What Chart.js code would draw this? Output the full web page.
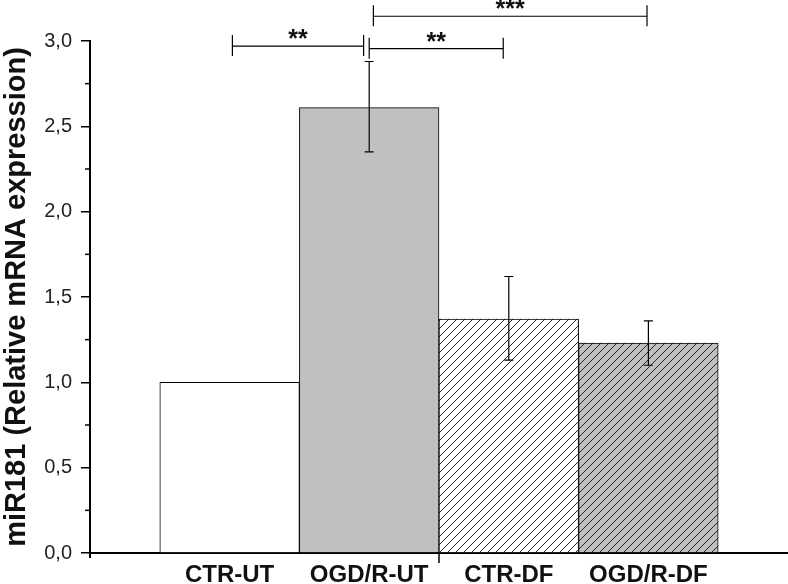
<!DOCTYPE html>
<html>
<head>
<meta charset="utf-8">
<script src="https://cdn.jsdelivr.net/npm/chart.js@4.4.1/dist/chart.umd.min.js"></script>
<style>
  html, body { margin: 0; padding: 0; background: #fff; }
  #wrap { width: 788px; height: 584px; }
</style>
</head>
<body>
<div id="wrap"><canvas id="chart" width="788" height="584"></canvas></div>
<script>
// data
var categories = ['CTR-UT', 'OGD/R-UT', 'CTR-DF', 'OGD/R-DF'];
var positions = [1, 2, 3, 4];
var means = [1.0, 2.61, 1.37, 1.23];
var errLow = [null, 2.35, 1.13, 1.10];
var errHigh = [null, 2.88, 1.62, 1.36];

// significance brackets
var sigStart = [1.02, 2.0, 2.03];
var sigEnd = [1.96, 2.96, 3.99];
var sigLevel = [2.97, 2.955, 3.145];
var sigText = ['**', '**', '***'];

function hatch(bg) {
    var c = document.createElement('canvas');
    c.width = 8; c.height = 8;
    var g = c.getContext('2d');
    g.fillStyle = bg;
    g.fillRect(0, 0, 8, 8);
    g.strokeStyle = '#222';
    g.lineWidth = 1;
    g.beginPath();
    g.moveTo(-1, 9); g.lineTo(9, -1);
    g.moveTo(-1, 1); g.lineTo(1, -1);
    g.moveTo(7, 9); g.lineTo(9, 7);
    g.stroke();
    return g.createPattern(c, 'repeat');
}

var ctx = document.getElementById('chart').getContext('2d');
var fills = ['#ffffff', '#c0c0c0', hatch('#ffffff'), hatch('#c0c0c0')];

// error bars, minor ticks, middle x tick, brackets
var extras = {
    id: 'extras',
    afterDatasetsDraw: function(chart) {
        var c = chart.ctx, xs = chart.scales.x, ys = chart.scales.y;
        var area = chart.chartArea;
        c.save();
        c.strokeStyle = '#000';
        c.lineWidth = 1.2;
        positions.forEach(function(p, i) {
            if (errLow[i] == null) return;
            var x = xs.getPixelForValue(p);
            var y1 = ys.getPixelForValue(errLow[i]);
            var y2 = ys.getPixelForValue(errHigh[i]);
            c.beginPath();
            c.moveTo(x, y1); c.lineTo(x, y2);
            c.moveTo(x - 4.5, y1); c.lineTo(x + 4.5, y1);
            c.moveTo(x - 4.5, y2); c.lineTo(x + 4.5, y2);
            c.stroke();
        });

        c.lineWidth = 1.5;
        [0.25, 0.75, 1.25, 1.75, 2.25, 2.75].forEach(function(v) {
            var y = ys.getPixelForValue(v);
            c.beginPath();
            c.moveTo(area.left - 5, y); c.lineTo(area.left, y);
            c.stroke();
        });
        var xm = xs.getPixelForValue(2.5);
        c.beginPath();
        c.moveTo(xm, area.bottom); c.lineTo(xm, area.bottom + 10);
        c.stroke();
        // y axis runs a little below the x axis
        c.lineWidth = 2;
        c.beginPath();
        c.moveTo(area.left, area.bottom); c.lineTo(area.left, area.bottom + 5);
        c.stroke();

        c.lineWidth = 1.2;
        c.fillStyle = '#111';
        c.font = 'bold 25px "Liberation Sans"';
        c.textAlign = 'center';
        c.textBaseline = 'alphabetic';
        sigStart.forEach(function(s, i) {
            var xa = xs.getPixelForValue(s);
            var xb = xs.getPixelForValue(sigEnd[i]);
            var y = ys.getPixelForValue(sigLevel[i]);
            c.beginPath();
            c.moveTo(xa, y); c.lineTo(xb, y);
            c.moveTo(xa, y - 11); c.lineTo(xa, y + 10);
            c.moveTo(xb, y - 11); c.lineTo(xb, y + 10);
            c.stroke();
            c.fillText(sigText[i], (xa + xb) / 2, y + 1);
        });
        c.restore();
    }
};

var chart = new Chart(ctx, {
    type: 'bar',
    data: {
        datasets: [{
            data: positions.map(function(p, i) { return { x: p, y: means[i] }; }),
            backgroundColor: fills,
            borderColor: '#000',
            borderWidth: 1,
            barPercentage: 1,
            categoryPercentage: 1
        }]
    },
    options: {
        responsive: false,
        animation: false,
        layout: { padding: { top: 41, right: 0, left: 0, bottom: 0 } },
        plugins: { legend: { display: false }, tooltip: { enabled: false } },
        scales: {
            x: {
                type: 'linear',
                min: 0,
                max: 5,
                offset: false,
                afterBuildTicks: function(axis) {
                    axis.ticks = positions.map(function(v) { return { value: v }; });
                },
                border: { display: true, color: '#000', width: 2 },
                grid: {
                    drawOnChartArea: false,
                    tickLength: 13,
                    tickColor: 'rgba(0,0,0,0)'
                },
                ticks: {
                    autoSkip: false,
                    maxRotation: 0,
                    padding: 0,
                    color: '#111',
                    font: { family: 'Liberation Sans', size: 24, weight: 'bold', lineHeight: 0.75 },
                    callback: function(v) {
                        var i = positions.indexOf(v);
                        return i >= 0 ? categories[i] : '';
                    }
                }
            },
            y: {
                min: 0,
                max: 3,
                afterFit: function(axis) { axis.width = 90; },
                border: { display: true, color: '#000', width: 2 },
                grid: {
                    drawOnChartArea: false,
                    tickLength: 9,
                    lineWidth: 1.5,
                    tickColor: function(c) { return c.tick && Math.abs(c.tick.value * 2 - Math.round(c.tick.value * 2)) < 1e-6 ? '#000' : 'rgba(0,0,0,0)'; }
                },
                ticks: {
                    stepSize: 0.25,
                    autoSkip: false,
                    padding: 9,
                    color: '#222',
                    font: { family: 'Liberation Sans', size: 20 },
                    callback: function(v) {
                        if (Math.abs(v * 2 - Math.round(v * 2)) > 1e-6) return '';
                        return v.toFixed(1).replace('.', ',');
                    }
                },
                title: {
                    display: true,
                    text: 'miR181 (Relative mRNA expression)',
                    color: '#111',
                    font: { family: 'Liberation Sans', size: 29, weight: 'bold' },
                    padding: { top: 0, bottom: 4 }
                }
            }
        }
    },
    plugins: [extras]
});
</script>
</body>
</html>
